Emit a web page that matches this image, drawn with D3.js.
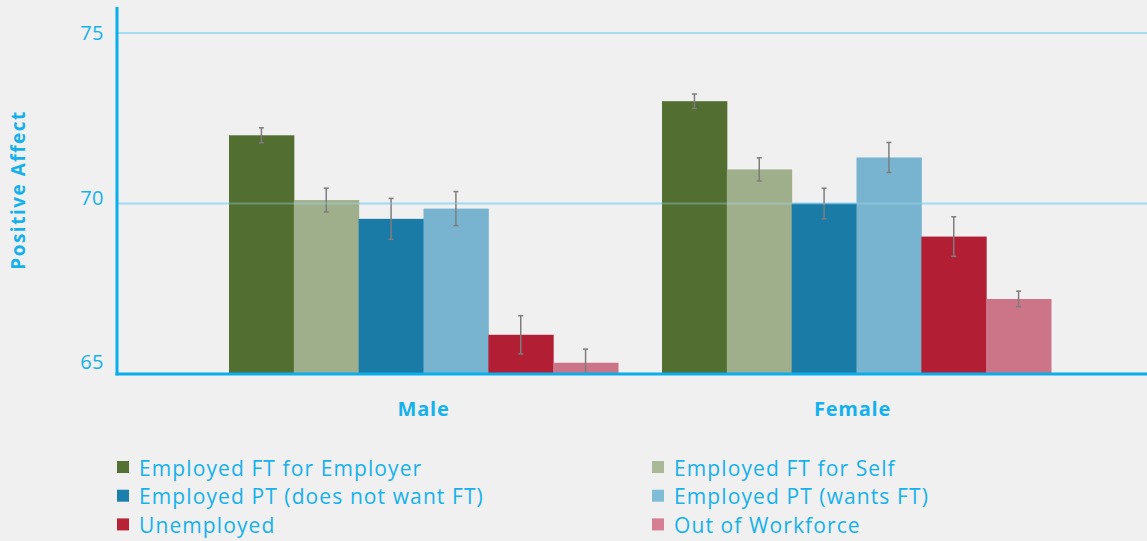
<!DOCTYPE html>
<html>
<head>
<meta charset="utf-8">
<script src="https://cdn.jsdelivr.net/npm/d3@7"></script>
<style>
  body { margin: 0; background: #f0f0f0; }
  svg { display: block; font-family: "Open Sans", sans-serif; }
</style>
</head>
<body>
<svg id="chart" width="1147" height="541"></svg>
<script>
// data
var groups = ["Male", "Female"];
var series = ["Employed FT for Employer", "Employed FT for Self", "Employed PT (does not want FT)",
              "Employed PT (wants FT)", "Unemployed", "Out of Workforce"];
var maleValues = [72.0, 70.1, 69.55, 69.85, 66.15, 65.33];
var femaleValues = [73.0, 71.0, 70.0, 71.35, 69.03, 67.2];
var maleErr = [0.22, 0.35, 0.6, 0.5, 0.56, 0.4];
var femaleErr = [0.21, 0.34, 0.45, 0.44, 0.58, 0.23];
var yTicks = [65, 70, 75];
var colors = ["#526e31", "#9fae8b", "#1a7ba7", "#78b4cf", "#b21f34", "#cc7589"];
var legendColors = ["#557033", "#a9b896", "#1c80ad", "#7fbdd6", "#b82236", "#d67f93"];

var textBlue = "#16b1ec";
var axisBlue = "#0aaeeb";
var gridBlue = "#a6dcf1";

var svg = d3.select("#chart");
var W = 1147;

//--------------------------------- scales ---------------------------------//
var y = d3.scaleLinear().domain([65, 75]).range([374, 33]);

var x0 = d3.scaleBand().domain(groups)
    .range([207, 1073])
    .paddingInner(44 / 433)
    .paddingOuter(22 / 433);

var x1 = d3.scaleBand().domain(series).range([0, x0.bandwidth()]);

var rows = groups.map(function (g, gi) {
    var vals = gi == 0 ? maleValues : femaleValues;
    var errs = gi == 0 ? maleErr : femaleErr;
    return series.map(function (s, i) {
        return { group: g, key: s, value: vals[i], err: errs[i], i: i };
    });
});

//--------------------------------- gridlines ---------------------------------//
svg.append("g")
    .selectAll("line")
    .data(yTicks.filter(function (d) { return d != 65; }))
    .enter().append("line")
    .attr("x1", 117).attr("x2", W)
    .attr("y1", function (d) { return y(d); })
    .attr("y2", function (d) { return y(d); })
    .attr("stroke", gridBlue)
    .attr("stroke-width", 2);

//--------------------------------- bars ---------------------------------//
var gBars = svg.append("g")
    .selectAll("g")
    .data(rows)
    .enter().append("g")
    .attr("transform", function (d) { return "translate(" + x0(d[0].group) + ",0)"; });

gBars.selectAll("rect")
    .data(function (d) { return d; })
    .enter().append("rect")
    .attr("x", function (d) { return x1(d.key); })
    .attr("width", x1.bandwidth() + 0.5)
    .attr("y", function (d) { return y(d.value); })
    .attr("height", function (d) { return y(65) - y(d.value); })
    .attr("fill", function (d) { return colors[d.i]; });

// gridline shows faintly through the bars in the original
svg.append("g")
    .selectAll("line")
    .data([70])
    .enter().append("line")
    .attr("x1", 117).attr("x2", W)
    .attr("y1", function (d) { return y(d); })
    .attr("y2", function (d) { return y(d); })
    .attr("stroke", gridBlue)
    .attr("stroke-opacity", 0.35)
    .attr("stroke-width", 2);

// error bars
var eb = gBars.selectAll("g.err")
    .data(function (d) { return d; })
    .enter().append("g")
    .attr("class", "err")
    .attr("stroke", "#7d7d7d")
    .attr("stroke-width", 1.5);

eb.append("line")
    .attr("x1", function (d) { return x1(d.key) + x1.bandwidth() / 2; })
    .attr("x2", function (d) { return x1(d.key) + x1.bandwidth() / 2; })
    .attr("y1", function (d) { return y(d.value + d.err); })
    .attr("y2", function (d) { return y(Math.max(65, d.value - d.err)); });

eb.selectAll("line.cap")
    .data(function (d) { return [d.value + d.err, d.value - d.err].filter(function (v) { return v > 65; }).map(function (v) { return { d: d, v: v }; }); })
    .enter().append("line")
    .attr("class", "cap")
    .attr("x1", function (c) { return x1(c.d.key) + x1.bandwidth() / 2 - 2.5; })
    .attr("x2", function (c) { return x1(c.d.key) + x1.bandwidth() / 2 + 2.5; })
    .attr("y1", function (c) { return y(c.v); })
    .attr("y2", function (c) { return y(c.v); });

//--------------------------------- axes ---------------------------------//
svg.append("line")
    .attr("x1", 117).attr("x2", 117)
    .attr("y1", 7).attr("y2", y(65) + 1.5)
    .attr("stroke", axisBlue).attr("stroke-width", 3);

svg.append("line")
    .attr("x1", 115.5).attr("x2", W)
    .attr("y1", y(65)).attr("y2", y(65))
    .attr("stroke", axisBlue).attr("stroke-width", 3);

// tick labels (sit a little above their lines in the original)
var labelShift = { 75: 0, 70: -6, 65: -12 };
svg.append("g")
    .selectAll("text")
    .data(yTicks)
    .enter().append("text")
    .attr("x", 104)
    .attr("y", function (d) { return y(d) + labelShift[d]; })
    .attr("dy", "0.35em")
    .attr("text-anchor", "end")
    .attr("fill", textBlue)
    .style("font-size", "20px")
    .style("letter-spacing", "0.5px")
    .text(function (d) { return d; });

svg.append("text")
    .attr("transform", "translate(25,190) rotate(-90)")
    .attr("text-anchor", "middle")
    .attr("fill", textBlue)
    .style("font-size", "19px")
    .style("font-weight", "bold")
    .style("letter-spacing", "1.5px")
    .text("Positive Affect");

svg.append("g")
    .selectAll("text")
    .data(groups)
    .enter().append("text")
    .attr("x", function (d, i) { return x0(d) + x0.bandwidth() / 2 - i * 4; })
    .attr("y", 416)
    .attr("text-anchor", "middle")
    .attr("fill", textBlue)
    .style("font-size", "20px")
    .style("font-weight", "bold")
    .style("letter-spacing", "0.8px")
    .text(function (d) { return d; });

//--------------------------------- legend ---------------------------------//
var legend = svg.append("g")
    .selectAll("g")
    .data(series)
    .enter().append("g")
    .attr("transform", function (d, i) {
        return "translate(" + (i % 2 == 0 ? 117 : 652) + "," + (461 + Math.floor(i / 2) * 28.7) + ")";
    });

legend.append("rect")
    .attr("width", 12).attr("height", 12)
    .attr("fill", function (d, i) { return legendColors[i]; });

legend.append("text")
    .attr("x", 22)
    .attr("y", 14.5)
    .attr("fill", textBlue)
    .style("font-size", "21px")
    .style("letter-spacing", "1.1px")
    .text(function (d) { return d; });
</script>
</body>
</html>
